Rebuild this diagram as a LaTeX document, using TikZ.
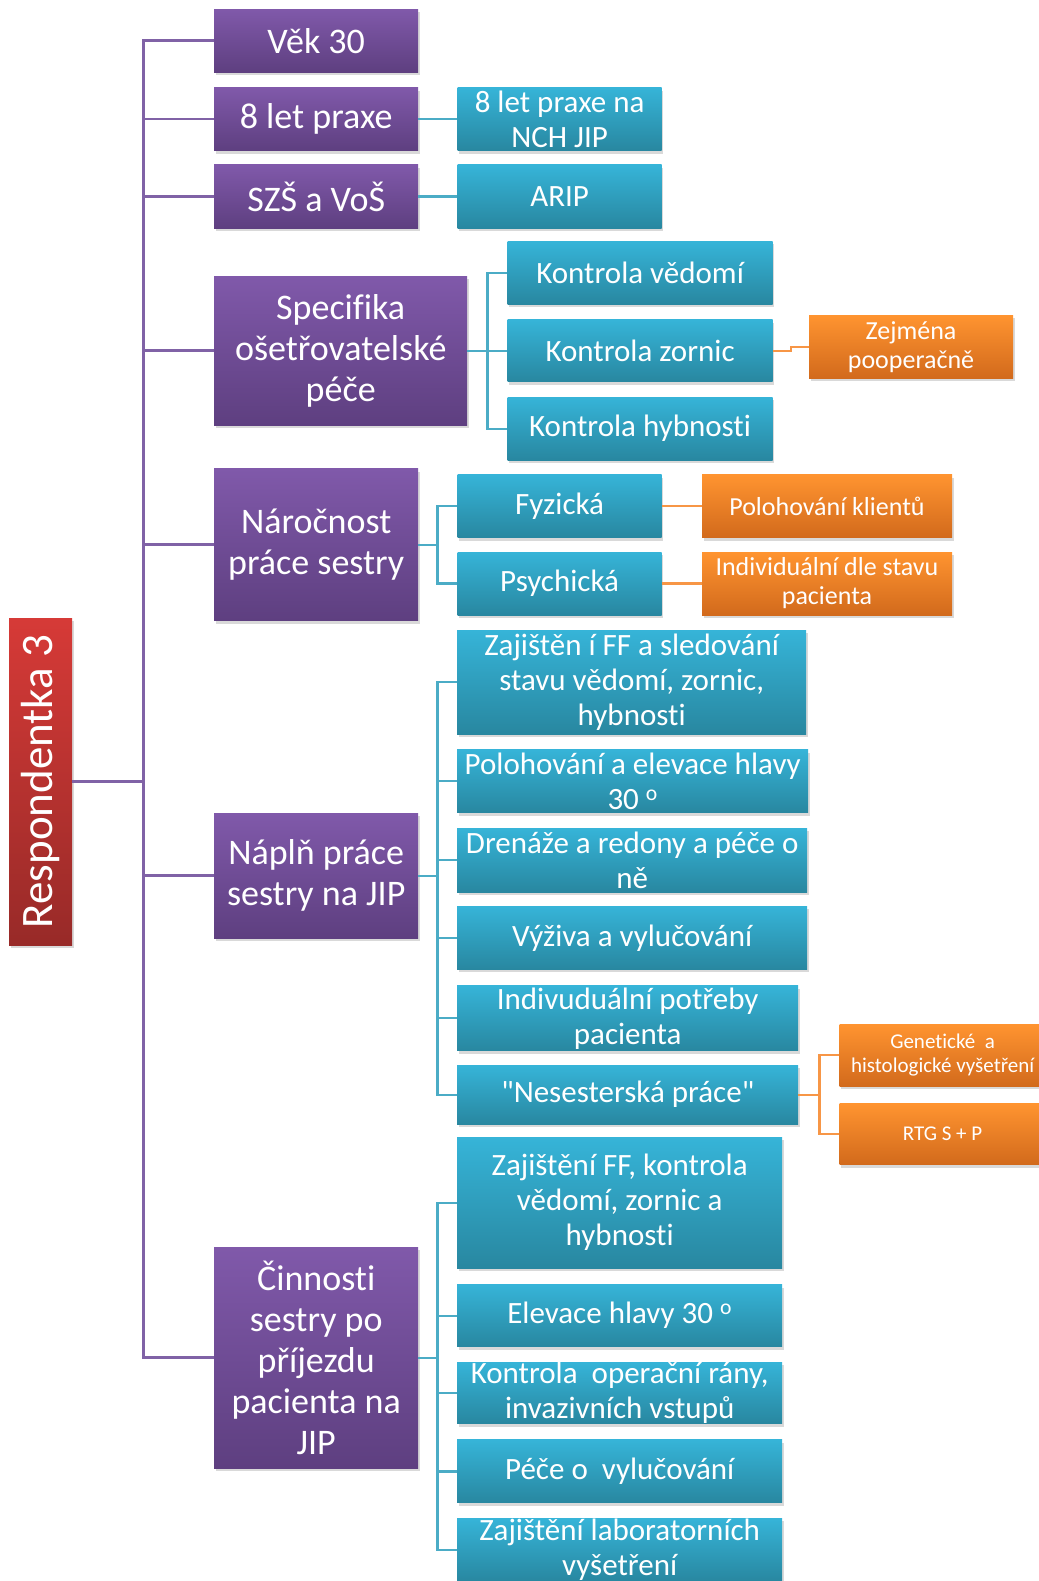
\documentclass[tikz,border=0pt]{standalone}
\usepackage{fontspec}
\newfontfamily\carlito{Carlito}[Ligatures=NoCommon]
\usetikzlibrary{positioning, shadows}
\definecolor{purtop}{RGB}{128,89,170}
\definecolor{purbot}{RGB}{94,63,128}
\definecolor{bluetop}{RGB}{54,180,216}
\definecolor{bluebot}{RGB}{40,135,160}
\definecolor{ortop}{RGB}{255,148,48}
\definecolor{orbot}{RGB}{210,106,28}
\definecolor{redtop}{RGB}{214,58,55}
\definecolor{redbot}{RGB}{152,42,40}
\definecolor{purline}{RGB}{128,98,166}
\definecolor{blueline}{RGB}{75,172,198}
\definecolor{orline}{RGB}{247,150,70}
\tikzstyle{box} = [rectangle, text=white, align=center, inner sep=0pt, drop shadow={shadow xshift=1.5pt, shadow yshift=-3pt, opacity=0.3}]
\tikzstyle{rootbox} = [box, top color=redtop, bottom color=redbot, minimum width=63pt, minimum height=327pt, font=\carlito\fontsize{45}{54}\selectfont]
\tikzstyle{topicbox} = [box, top color=purtop, bottom color=purbot, minimum width=204pt, minimum height=63pt, font=\carlito\fontsize{36}{41}\selectfont]
\tikzstyle{detailbox} = [box, top color=bluetop, bottom color=bluebot, minimum width=204pt, minimum height=63pt, font=\carlito\fontsize{31}{35}\selectfont]
\tikzstyle{notebox} = [box, top color=ortop, bottom color=orbot, minimum width=204pt, minimum height=63pt, font=\carlito\fontsize{26}{29}\selectfont]
\tikzstyle{smallnotebox} = [notebox, font=\carlito\fontsize{21}{24}\selectfont]
\tikzstyle{purlink} = [draw=purline, line width=2.6pt]
\tikzstyle{bluelink} = [draw=blueline, line width=2.2pt]
\tikzstyle{orlink} = [draw=orline, line width=2.2pt]

\begin{document}
\begin{tikzpicture}[x=1pt, y=1pt]
  \useasboundingbox (0,0) rectangle (1038,-1581);
  % Respondentka
  \node (root) [rootbox] at (40.5,-781.5) {\rotatebox{90}{Respondentka 3}};
  % Hlavni temata
  \node (vek) [topicbox, anchor=north west] at (214,-9) {Věk 30};
  \node (praxe) [topicbox, below=15pt of vek] {8 let praxe};
  \node (szs) [topicbox, below=14pt of praxe] {SZŠ a VoŠ};
  \node (spec) [topicbox, minimum width=253pt, minimum height=149pt, anchor=north west] at (214,-276) {Specifika\\ošetřovatelské\\péče};
  \node (naroc) [topicbox, minimum height=152pt, below=43pt of spec.south west, anchor=north west] {Náročnost\\práce sestry};
  \node (napln) [topicbox, minimum height=125pt, anchor=north west] at (214,-813) {Náplň práce\\sestry na JIP};
  \node (cinn) [topicbox, minimum height=221pt, anchor=north west] at (214,-1247) {Činnosti\\sestry po\\příjezdu\\pacienta na\\JIP};
  % Praxe a vzdelani
  \node (nch) [detailbox, right=39pt of praxe] {8 let praxe na\\NCH JIP};
  \node (arip) [detailbox, right=39pt of szs] {ARIP};
  % Specifika
  \node (zornic) [detailbox, minimum width=265pt, minimum height=62pt, right=40pt of spec] {Kontrola zornic};
  \node (vedomi) [detailbox, minimum width=265pt, above=15pt of zornic] {Kontrola vědomí};
  \node (hybn) [detailbox, minimum width=265pt, below=15pt of zornic] {Kontrola hybnosti};
  \node (zejm) [notebox, right=36pt of zornic, yshift=4pt] {Zejména\\pooperačně};
  % Narocnost
  \node (fyz) [detailbox, right=39pt of naroc, yshift=38.5pt] {Fyzická};
  \node (psych) [detailbox, below=14pt of fyz] {Psychická};
  \node (polkl) [notebox, minimum width=250pt, right=40pt of fyz] {Polohování klientů};
  \node (indiv) [notebox, minimum width=250pt, right=40pt of psych] {Individuální dle stavu\\pacienta};
  % Naplň prace
  \node (ff) [detailbox, minimum width=349pt, minimum height=104pt, anchor=north west] at (457,-630) {Zajištěn í FF a sledování\\stavu vědomí, zornic,\\hybnosti};
  \node (poloh) [detailbox, minimum width=351pt, below=15pt of ff.south west, anchor=north west] {Polohování a elevace hlavy\\30 \textsuperscript{o}};
  \node (dren) [detailbox, minimum width=350pt, minimum height=64pt, below=15pt of poloh.south west, anchor=north west] {Drenáže a redony a péče o\\ně};
  \node (vyziva) [detailbox, minimum width=350pt, below=14pt of dren.south west, anchor=north west] {Výživa a vylučování};
  \node (potreby) [detailbox, minimum width=341pt, minimum height=65pt, below=16pt of vyziva.south west, anchor=north west] {Indivuduální potřeby\\pacienta};
  \node (neses) [detailbox, minimum width=341pt, minimum height=59pt, below=14pt of potreby.south west, anchor=north west] {"Nesesterská práce"};
  \node (genet) [smallnotebox, minimum width=206pt, minimum height=62pt, right=41pt of neses, yshift=39.5pt] {Genetické\ \ a\\histologické vyšetření};
  \node (rtg) [smallnotebox, minimum width=206pt, minimum height=61pt, below=17pt of genet] {RTG S + P};
  % Cinnosti po prijezdu
  \node (zff) [detailbox, minimum width=325pt, minimum height=131pt, anchor=north west] at (457,-1137) {Zajištění FF, kontrola\\vědomí, zornic a\\hybnosti};
  \node (elev) [detailbox, minimum width=325pt, minimum height=62pt, below=16pt of zff] {Elevace hlavy 30 \textsuperscript{o}};
  \node (oper) [detailbox, minimum width=325pt, minimum height=61pt, below=15pt of elev] {Kontrola\ \ operační rány,\\invazivních vstupů};
  \node (pece) [detailbox, minimum width=325pt, below=16pt of oper] {Péče o\ \ vylučování};
  \node (lab) [detailbox, minimum width=325pt, below=15pt of pece] {Zajištění laboratorních\\vyšetření};
  % Spojnice
  \draw [purlink] (root.east) -- ++(71pt,0) coordinate (trunk);
  \draw [purlink] (trunk) |- (vek.west);
  \draw [purlink] (trunk) |- (praxe.west);
  \draw [purlink] (trunk) |- (szs.west);
  \draw [purlink] (trunk) |- (spec.west);
  \draw [purlink] (trunk) |- (naroc.west);
  \draw [purlink] (trunk) |- (napln.west);
  \draw [purlink] (trunk) |- (cinn.west);
  \draw [bluelink] (praxe.east) -- (nch.west);
  \draw [bluelink] (szs.east) -- (arip.west);
  \draw [bluelink] (spec.east) -- ++(20pt,0) coordinate (specfork);
  \draw [bluelink] (specfork) |- (vedomi.west);
  \draw [bluelink] (specfork) |- (zornic.west);
  \draw [bluelink] (specfork) |- (hybn.west);
  \draw [bluelink] (naroc.east) -- ++(19pt,0) coordinate (narocfork);
  \draw [bluelink] (narocfork) |- (fyz.west);
  \draw [bluelink] (narocfork) |- (psych.west);
  \draw [bluelink] (napln.east) -- ++(19pt,0) coordinate (naplnfork);
  \draw [bluelink] (naplnfork) |- (ff.west);
  \draw [bluelink] (naplnfork) |- (poloh.west);
  \draw [bluelink] (naplnfork) |- (dren.west);
  \draw [bluelink] (naplnfork) |- (vyziva.west);
  \draw [bluelink] (naplnfork) |- (potreby.west);
  \draw [bluelink] (naplnfork) |- (neses.west);
  \draw [bluelink] (cinn.east) -- ++(19pt,0) coordinate (cinnfork);
  \draw [bluelink] (cinnfork) |- (zff.west);
  \draw [bluelink] (cinnfork) |- (elev.west);
  \draw [bluelink] (cinnfork) |- (oper.west);
  \draw [bluelink] (cinnfork) |- (pece.west);
  \draw [bluelink] (cinnfork) |- (lab.west);
  \draw [orlink] (zornic.east) -- ++(18pt,0) |- (zejm.west);
  \draw [orlink] (fyz.east) -- (polkl.west);
  \draw [orlink] (psych.east) -- (indiv.west);
  \draw [orlink] (neses.east) -- ++(21pt,0) coordinate (nesesfork);
  \draw [orlink] (nesesfork) |- (genet.west);
  \draw [orlink] (nesesfork) |- (rtg.west);
\end{tikzpicture}
\end{document}
